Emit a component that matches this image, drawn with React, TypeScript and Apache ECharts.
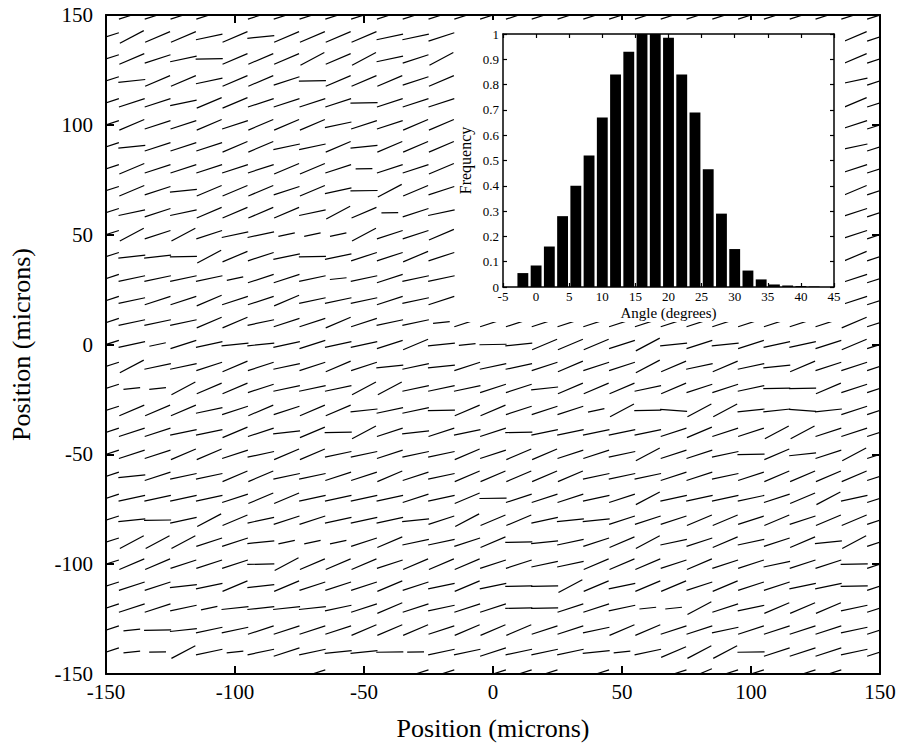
import React, { useEffect, useRef } from "react";
import * as echarts from "echarts";

// Grid of fibre centres (microns)
const GRID_X = [-150, -140, -130, -120, -110, -100, -90, -80, -70, -60, -50, -40, -30, -20, -10, 0, 10, 20, 30, 40, 50, 60, 70, 80, 90, 100, 110, 120, 130, 140, 150];
const GRID_Y = [150, 140, 130, 120, 110, 100, 90, 80, 70, 60, 50, 40, 30, 20, 10, 0, -10, -20, -30, -40, -50, -60, -70, -80, -90, -100, -110, -120, -130, -140, -150];

// Per-row orientation codes (one char per column of GRID_X, spaces ignored).
// digit -> visual angle class; 'n' -> slightly descending; 'a','b','c' -> short segment; '.' -> hidden by inset
const ANGLE_ROWS = [
  "33333 03333 33333 33333 33333 33333 3",
  "35442 41444 4223. ..... ..... ....4 3",
  "34320 44454 5235. ..... ..... ....4 3",
  "31442 44304 4434. ..... ..... ....2 3",
  "33324 43333 0333. ..... ..... ....4 3",
  "34334 34442 3344. ..... ..... ....3 3",
  "31333 44224 1444. ..... ..... ....2 3",
  "34333 33443 a334. ..... ..... ....3 3",
  "34314 44342 0543. ..... ..... ....4 3",
  "32324 44425 4a32. ..... ..... ....3 3",
  "35353 22ccc 5334. ..... ..... ....3 3",
  "31105 43202 3343. ..... ..... ....4 3",
  "32222 c332b 2322. ..... ..... ....3 3",
  "32334 33422 2323. ..... ..... ....3 3",
  "32224 42334 322b3 33333 33333 33334 3",
  "32c32 11232 2341b 01444 35131 32234 3",
  "35223 43234 31213 22343 35424 21433 3",
  "3bb54 43222 55222 33144 42433 20043 3",
  "34442 34344 12204 4333c 50n55 11n13 3",
  "33322 43140 53132 30222 22343 35533 3",
  "33344 32442 23224 34433 25332 04135 3",
  "31322 44223 34324 44442 22332 34444 3",
  "32222 34422 22324 03332 35222 23452 3",
  "31025 42332 22135 44211 33344 34344 3",
  "35553 31ccc 34223 40123 45234 23415 3",
  "34433 30544 43444 33224 44343 32330 3",
  "33312 41433 34324 20054 24434 33220 3",
  "3332c 11112 34323 30033 2bb53 24442 3",
  "3b012 23333 44434 44332 44332 33332 3",
  "3ba52 b2321 10a22 32221 b2455 03332 3",
  "00000 00030 00330 33303 00343 30330 0",
];

// visual angle (degrees on screen) for each code
const CODE_ANGLE: Record<string, number> = {
  "0": 1, "1": 6, "2": 12, "3": 18, "4": 23, "5": 28, "6": 32, "7": 36,
  n: -4, a: 1, b: 6, c: 12,
};
const SHORT_CODES = "abc";
const SEGMENT_LENGTH = 10.5;
const SHORT_LENGTH = 6.5;

// Inset histogram
const HIST_ANGLES = [-2, 0, 2, 4, 6, 8, 10, 12, 14, 16, 18, 20, 22, 24, 26, 28, 30, 32, 34, 36, 38, 40, 42];
const HIST_FREQ = [0.055, 0.085, 0.16, 0.28, 0.4, 0.52, 0.67, 0.84, 0.93, 1.0, 1.0, 0.985, 0.84, 0.69, 0.465, 0.29, 0.15, 0.065, 0.03, 0.01, 0.006, 0.004, 0.002];
const HIST_HALF_WIDTH = 0.82;

const FONT = "'Liberation Serif', 'Times New Roman', serif";

export default function App() {
  const ref = useRef<HTMLDivElement>(null);

  useEffect(() => {
    if (!ref.current) return;
    const chart = echarts.init(ref.current, undefined, { renderer: "svg" });

    const segData: number[][] = [];
    ANGLE_ROWS.forEach((rowStr, r) => {
      const codes = rowStr.replace(/ /g, "");
      for (let c = 0; c < GRID_X.length && c < codes.length; c++) {
        const ch = codes[c];
        if (ch === "." || CODE_ANGLE[ch] === undefined) continue;
        segData.push([
          GRID_X[c],
          GRID_Y[r],
          CODE_ANGLE[ch],
          SHORT_CODES.includes(ch) ? SHORT_LENGTH : SEGMENT_LENGTH,
        ]);
      }
    });

    const histData = HIST_ANGLES.map((a, i) => [a, HIST_FREQ[i]]);

    const mainAxisLine = { show: true, onZero: false, lineStyle: { color: "#000", width: 2 } };
    const mainTick = { show: true, inside: true, length: 8, lineStyle: { color: "#000", width: 2 } };
    const insetAxisLine = { show: true, onZero: false, lineStyle: { color: "#000", width: 1.5 } };
    const insetTick = { show: true, inside: true, length: 4, lineStyle: { color: "#000", width: 1.2 } };

    const option: any = {
      animation: false,
      backgroundColor: "#fff",
      grid: [
        { left: 106, top: 15, width: 774, height: 664 },
        { left: 503, top: 34, width: 331, height: 253 },
      ],
      xAxis: [
        {
          gridIndex: 0, type: "value", min: -150, max: 150, interval: 50, position: "bottom",
          axisLine: mainAxisLine, axisTick: mainTick, splitLine: { show: false },
          axisLabel: { color: "#000", fontFamily: FONT, fontSize: 21, margin: 7 },
          name: "Position (microns)", nameLocation: "middle", nameGap: 41,
          nameTextStyle: { color: "#000", fontFamily: FONT, fontSize: 26 },
        },
        {
          gridIndex: 0, type: "value", min: -150, max: 150, interval: 50, position: "top",
          axisLine: mainAxisLine, axisTick: mainTick, splitLine: { show: false },
          axisLabel: { show: false },
        },
        {
          gridIndex: 1, type: "value", min: -5, max: 45, interval: 5, position: "bottom", z: 10,
          axisLine: insetAxisLine, axisTick: insetTick, splitLine: { show: false },
          axisLabel: { color: "#000", fontFamily: FONT, fontSize: 13, margin: 3 },
          name: "Angle (degrees)", nameLocation: "middle", nameGap: 18,
          nameTextStyle: { color: "#000", fontFamily: FONT, fontSize: 15 },
        },
        {
          gridIndex: 1, type: "value", min: -5, max: 45, interval: 5, position: "top", z: 10,
          axisLine: insetAxisLine, axisTick: insetTick, splitLine: { show: false },
          axisLabel: { show: false },
        },
      ],
      yAxis: [
        {
          gridIndex: 0, type: "value", min: -150, max: 150, interval: 50, position: "left",
          axisLine: mainAxisLine, axisTick: mainTick, splitLine: { show: false },
          axisLabel: { color: "#000", fontFamily: FONT, fontSize: 21, margin: 13 },
          name: "Position (microns)", nameLocation: "middle", nameGap: 72,
          nameTextStyle: { color: "#000", fontFamily: FONT, fontSize: 26 },
        },
        {
          gridIndex: 0, type: "value", min: -150, max: 150, interval: 50, position: "right",
          axisLine: mainAxisLine, axisTick: mainTick, splitLine: { show: false },
          axisLabel: { show: false },
        },
        {
          gridIndex: 1, type: "value", min: 0, max: 1, interval: 0.1, position: "left", z: 10,
          axisLine: insetAxisLine, axisTick: insetTick, splitLine: { show: false },
          axisLabel: { color: "#000", fontFamily: FONT, fontSize: 13, margin: 4 },
          name: "Frequency", nameLocation: "middle", nameGap: 30,
          nameTextStyle: { color: "#000", fontFamily: FONT, fontSize: 16 },
        },
        {
          gridIndex: 1, type: "value", min: 0, max: 1, interval: 0.1, position: "right", z: 10,
          axisLine: insetAxisLine, axisTick: insetTick, splitLine: { show: false },
          axisLabel: { show: false },
        },
      ],
      graphic: {
        elements: [
          {
            type: "rect", left: 458, top: 20, z: 5,
            shape: { width: 387, height: 302 },
            style: { fill: "#fff" },
          },
        ],
      },
      series: [
        {
          type: "custom",
          xAxisIndex: 0,
          yAxisIndex: 0,
          z: 2,
          clip: true,
          encode: { x: 0, y: 1 },
          data: segData,
          renderItem: (params: any, api: any) => {
            const c = api.coord([api.value(0), api.value(1)]);
            const half = api.size([api.value(3) / 2, 0])[0];
            const a = (api.value(2) * Math.PI) / 180;
            const dx = half * Math.cos(a);
            const dy = half * Math.sin(a);
            return {
              type: "line",
              shape: { x1: c[0] - dx, y1: c[1] + dy, x2: c[0] + dx, y2: c[1] - dy },
              style: { stroke: "#000", lineWidth: 1.2 },
            };
          },
        },
        {
          type: "custom",
          xAxisIndex: 2,
          yAxisIndex: 2,
          z: 10,
          clip: true,
          encode: { x: 0, y: 1 },
          data: histData,
          renderItem: (params: any, api: any) => {
            const p0 = api.coord([api.value(0) - HIST_HALF_WIDTH, api.value(1)]);
            const p1 = api.coord([api.value(0) + HIST_HALF_WIDTH, 0]);
            return {
              type: "rect",
              shape: { x: p0[0], y: p0[1], width: p1[0] - p0[0], height: p1[1] - p0[1] },
              style: { fill: "#000" },
            };
          },
        },
      ],
    };

    chart.setOption(option);
    return () => chart.dispose();
  }, []);

  return (
    <div
      ref={ref}
      style={{ position: "fixed", left: 0, top: 0, width: 901, height: 746, background: "#fff" }}
    />
  );
}
